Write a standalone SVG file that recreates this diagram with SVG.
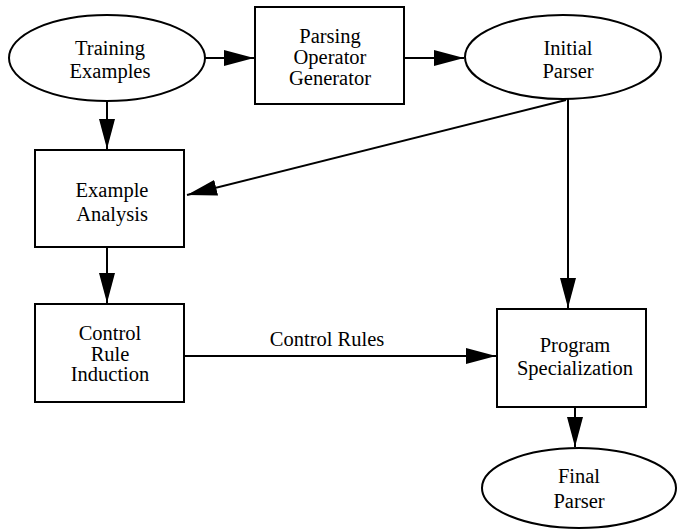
<svg xmlns="http://www.w3.org/2000/svg" width="677" height="529" viewBox="0 0 677 529">
<defs>
<marker id="ah" markerWidth="30" markerHeight="16" refX="30" refY="8" orient="auto" markerUnits="userSpaceOnUse">
<path d="M0,0 L30,8 L0,16 Z" fill="#000"/>
</marker>
<style>
.n{fill:#fff;stroke:#000;stroke-width:2}
.t{font-family:"Liberation Serif","Times New Roman",serif;font-size:20.5px;fill:#000;text-anchor:middle}
.e{stroke:#000;stroke-width:2;fill:none;marker-end:url(#ah)}
</style>
</defs>
<rect width="677" height="529" fill="#fff"/>
<g id="edges">
<line class="e" x1="205" y1="58" x2="254" y2="58"/>
<line class="e" x1="404" y1="58" x2="464" y2="58"/>
<line class="e" x1="107" y1="102" x2="107" y2="149"/>
<line class="e" x1="107" y1="247" x2="107" y2="303"/>
<line class="e" x1="566" y1="100" x2="187" y2="195"/>
<line class="e" x1="568" y1="99" x2="568" y2="308"/>
<line class="e" x1="184" y1="356" x2="496" y2="356"/>
<line class="e" x1="575" y1="407" x2="575" y2="447"/>
<text class="t" x="327" y="346">Control Rules</text>
</g>
<g id="training_examples">
<ellipse class="n" cx="107" cy="58" rx="98" ry="43"/>
<text class="t" x="110" y="55">Training</text>
<text class="t" x="110" y="78">Examples</text>
</g>
<g id="parsing_operator_generator">
<rect class="n" x="255" y="7" width="149" height="97"/>
<text class="t" x="330" y="43">Parsing</text>
<text class="t" x="330" y="64">Operator</text>
<text class="t" x="330" y="85">Generator</text>
</g>
<g id="initial_parser">
<ellipse class="n" cx="563" cy="57" rx="98" ry="42"/>
<text class="t" x="568" y="55">Initial</text>
<text class="t" x="568" y="78">Parser</text>
</g>
<g id="example_analysis">
<rect class="n" x="35" y="150" width="149" height="97"/>
<text class="t" x="112" y="197">Example</text>
<text class="t" x="112" y="221">Analysis</text>
</g>
<g id="control_rule_induction">
<rect class="n" x="35" y="304" width="149" height="98"/>
<text class="t" x="110" y="340">Control</text>
<text class="t" x="110" y="361">Rule</text>
<text class="t" x="110" y="381">Induction</text>
</g>
<g id="program_specialization">
<rect class="n" x="497" y="309" width="149" height="98"/>
<text class="t" x="575" y="352">Program</text>
<text class="t" x="575" y="375">Specialization</text>
</g>
<g id="final_parser">
<ellipse class="n" cx="579" cy="488" rx="97" ry="40"/>
<text class="t" x="579" y="483">Final</text>
<text class="t" x="579" y="508">Parser</text>
</g>
</svg>
